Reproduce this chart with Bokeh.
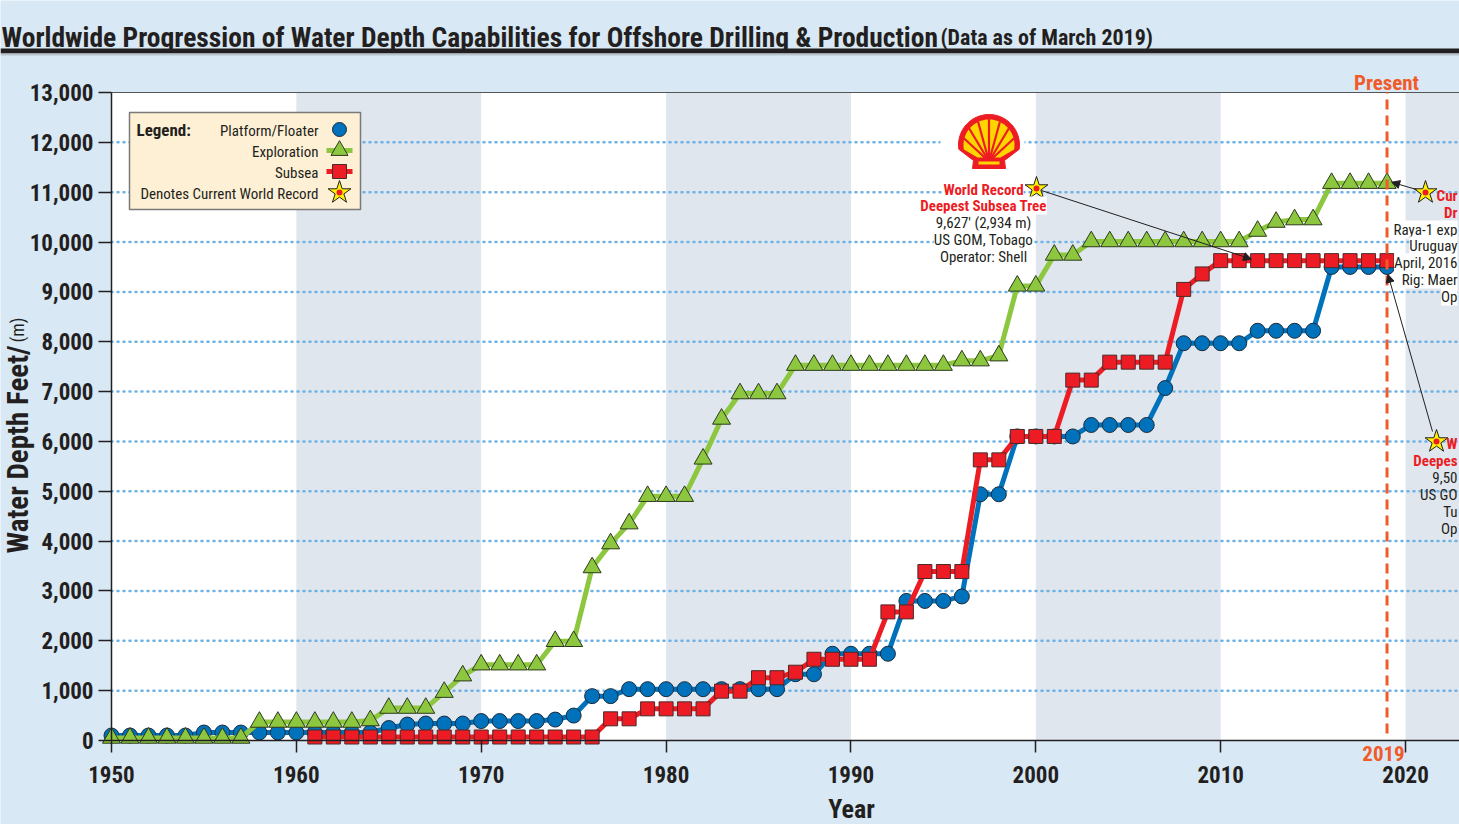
import math
import numpy as np
from bokeh.plotting import figure
from bokeh.models import (Range1d, FixedTicker, NumeralTickFormatter, BoxAnnotation,
                          Label, Arrow, NormalHead, BasicTickFormatter)
from bokeh.embed import file_html
from bokeh.resources import INLINE

nan = float("nan")

# ---------------- data ----------------
years = list(range(1950, 2020))

platform_ft = [100, 100, 100, 100, 100, 160, 160, 160, 160, 160,
               160, 160, 160, 160, 160, 250, 320, 340, 340, 340,
               390, 390, 390, 390, 420, 500, 890, 890, 1030, 1030,
               1030, 1030, 1030, 1030, 1030, 1030, 1030, 1330, 1330, 1740,
               1740, 1740, 1740, 2800, 2800, 2800, 2890, 4940, 4940, 6100,
               6100, 6100, 6100, 6330, 6330, 6330, 6330, 7070, 7970, 7970,
               7970, 7970, 8220, 8220, 8220, 8220, 9500, 9500, 9500, 9500]

exploration_ft = [50, 50, 50, 50, 50, 50, 50, 50, 370, 370,
                  370, 370, 370, 370, 400, 650, 650, 650, 970, 1300,
                  1520, 1520, 1520, 1520, 1990, 1990, 3470, 3950, 4350, 4900,
                  4900, 4900, 5650, 6450, 6960, 6960, 6960, 7530, 7530, 7530,
                  7530, 7530, 7530, 7530, 7530, 7530, 7620, 7620, 7720, 9120,
                  9120, 9740, 9740, 10010, 10010, 10010, 10010, 10010, 10010, 10010,
                  10010, 10010, 10220, 10400, 10450, 10450, 11180, 11180, 11180, 11180]

subsea_ft = [nan, nan, nan, nan, nan, nan, nan, nan, nan, nan,
             nan, 70, 70, 70, 70, 70, 70, 70, 70, 70,
             70, 70, 70, 70, 70, 70, 70, 435, 435, 635,
             635, 635, 635, 990, 990, 1260, 1260, 1370, 1630, 1630,
             1630, 1630, 2580, 2580, 3390, 3390, 3390, 5630, 5630, 6100,
             6100, 6100, 7230, 7230, 7590, 7590, 7590, 7590, 9050, 9360,
             9627, 9627, 9627, 9627, 9627, 9627, 9627, 9627, 9627, 9627]

decade_ticks = [1950, 1960, 1970, 1980, 1990, 2000, 2010, 2020]
depth_ticks = [0, 1000, 2000, 3000, 4000, 5000, 6000, 7000, 8000, 9000,
               10000, 11000, 12000, 13000]
band_start = [1960, 1980, 2000, 2020]
band_end = [1970, 1990, 2010, 2030]
present_year = 2019
subsea_record_pointer_year = 2012

# ---------------- styles ----------------
FONT = "'Roboto Condensed', 'Liberation Sans Narrow', 'DejaVu Sans Condensed', Roboto, sans-serif"
BG = "#d8e8f5"
BAND = "#dfe6ee"
DARK = "#231f20"
BLUE = "#0072bc"
GREEN = "#8dc63f"
RED = "#ed1c24"
ORANGE = "#f15a29"

W, H = 1459, 824
PX_YEAR = 18.486           # pixels per year
PX_FT = 648 / 13000        # pixels per foot
AX_X, AX_Y = 111, 740      # pixel position of (1950, 0)
XS = 1950 - AX_X / PX_YEAR
XE = XS + W / PX_YEAR
YS = -(H - AX_Y) / PX_FT
YE = AX_Y / PX_FT


def dx(px):
    return XS + px / PX_YEAR


def dy(py):
    return (AX_Y - py) / PX_FT


p = figure(width=W, height=H, output_backend="svg", toolbar_location=None,
           x_range=Range1d(XS, XE), y_range=Range1d(YS, YE),
           min_border_left=0, min_border_right=0, min_border_top=0, min_border_bottom=0,
           background_fill_color=BG, border_fill_color=BG, outline_line_color=None)

# plot area and bands
p.add_layout(BoxAnnotation(left=1950, right=XE, bottom=0, top=13000, fill_color="white",
                           fill_alpha=1, line_color=None, level="image"))
for s, e in zip(band_start, band_end):
    p.add_layout(BoxAnnotation(left=s, right=min(e, XE), bottom=0, top=13000, fill_color=BAND,
                               fill_alpha=1, line_color=None, level="image"))

# axes (fixed at the data origin)
p.xaxis.fixed_location = 0
p.yaxis.fixed_location = 1950
p.xaxis.bounds = (1950, XE)
p.yaxis.bounds = (0, 13000)
p.xaxis.ticker = FixedTicker(ticks=decade_ticks)
p.xaxis.formatter = BasicTickFormatter(use_scientific=False)
p.yaxis.ticker = FixedTicker(ticks=depth_ticks)
p.yaxis.formatter = NumeralTickFormatter(format="0,0")
for ax in (p.xaxis[0], p.yaxis[0]):
    ax.axis_line_color = DARK
    ax.axis_line_width = 1.5
    ax.major_tick_line_color = DARK
    ax.major_tick_line_width = 1.5
    ax.major_tick_in = 0
    ax.minor_tick_line_color = None
    ax.major_label_text_font = FONT
    ax.major_label_text_font_style = "bold"
    ax.major_label_text_font_size = "23px"
    ax.major_label_text_color = DARK
p.xaxis.major_tick_out = 12
p.xaxis.major_label_standoff = 13
p.yaxis.major_tick_out = 13
p.yaxis.major_label_standoff = 5
p.xgrid.visible = False
p.ygrid.visible = False

# dotted grid lines inside the plot area
grid_levels = depth_ticks[1:-1]
p.segment(x0=[1950] * len(grid_levels), y0=grid_levels, x1=[XE] * len(grid_levels), y1=grid_levels,
          line_color="#6fb3e6", line_width=2.5, line_dash="1 5", line_cap="round")
# top border of plot area
p.segment(x0=[1950], y0=[13000], x1=[XE], y1=[13000], line_color="#555555", line_width=1.2)

# legend box (drawn before data)
p.quad(left=[dx(129)], right=[dx(360)], top=[dy(112)], bottom=[dy(209)],
       fill_color="#fef0d5", line_color="#7a7a7a", line_width=1.5)

# shell logo (decoration)
p.quad(left=[dx(940)], right=[dx(1024)], top=[dy(108)], bottom=[dy(172)],
       fill_color="white", line_color=None)
cx, cy = 988.5, 144.5
t = np.radians(np.linspace(188, -8, 60))
ox = list(cx + 30.5 * np.cos(t)) + [1004, 1005, 972, 973]
oy = list(cy - 30.5 * np.sin(t)) + [160, 168, 168, 160]
p.patch([dx(v) for v in ox], [dy(v) for v in oy], fill_color=RED, line_color=RED, line_width=1)
t2 = np.radians(np.linspace(190, -10, 60))
ix = list(cx + 25.5 * np.cos(t2)) + [1000, 977]
iy = list(cy - 25.5 * np.sin(t2)) + [157, 157]
p.patch([dx(v) for v in ix], [dy(v) for v in iy], fill_color="#ffd500", line_color=None)
for ang in [165, 140, 115, 90, 65, 40, 15]:
    a = math.radians(ang)
    p.line([dx(cx), dx(cx + 26 * math.cos(a))], [dy(161), dy(cy - 26 * math.sin(a))],
           line_color=RED, line_width=2.2)
p.quad(left=[dx(978)], right=[dx(999)], top=[dy(161)], bottom=[dy(164)], fill_color="#ffd500", line_color=None)

# data series
p.line(years, platform_ft, line_color=BLUE, line_width=5)
p.scatter(years, platform_ft, marker="circle", size=15, fill_color=BLUE, line_color="#1c2b3a", line_width=1)
p.line(years, subsea_ft, line_color=RED, line_width=5)
p.scatter(years, subsea_ft, marker="square", size=14, fill_color=RED, line_color="#4a2a2a", line_width=1)
p.line(years, exploration_ft, line_color=GREEN, line_width=5)
p.scatter(years, exploration_ft, marker="triangle", size=18, fill_color=GREEN, line_color="#2c3a1c", line_width=1)

# present line
p.segment(x0=[present_year], y0=[dy(733)], x1=[present_year], y1=[13000], line_color=ORANGE,
          line_width=3, line_dash="10 6")

# legend markers
p.scatter([dx(339)], [dy(129)], marker="circle", size=14, fill_color=BLUE, line_color="#1c2b3a")
p.line([dx(326), dx(352)], [dy(150)] * 2, line_color=GREEN, line_width=5)
p.scatter([dx(339)], [dy(150)], marker="triangle", size=17, fill_color=GREEN, line_color="#2c3a1c")
p.line([dx(326), dx(352)], [dy(171)] * 2, line_color=RED, line_width=5)
p.scatter([dx(339)], [dy(171)], marker="square", size=14, fill_color=RED, line_color="#4a2a2a")

# record stars
star_px = [(339, 192), (1036, 188), (1425, 192), (1436, 441)]
p.scatter([dx(a) for a, b in star_px], [dy(b) for a, b in star_px], marker="star", size=24,
          fill_color="#fff200", line_color=DARK, line_width=1)
p.scatter([dx(a) for a, b in star_px], [dy(b) for a, b in star_px], marker="circle", size=6,
          fill_color=RED, line_color=None)

# arrows to record points
i_sub = years.index(subsea_record_pointer_year)
i_pr = years.index(present_year)
p.add_layout(Arrow(end=NormalHead(size=8, fill_color=DARK, line_color=DARK),
                   x_start=dx(1041), y_start=dy(190), x_end=dx(1251), y_end=subsea_ft[i_sub] + 30,
                   line_color=DARK, line_width=1))
p.add_layout(Arrow(end=NormalHead(size=8, fill_color=DARK, line_color=DARK),
                   x_start=dx(1416), y_start=dy(189), x_end=present_year + 0.25, y_end=exploration_ft[i_pr] + 20,
                   line_color=DARK, line_width=1))
p.add_layout(Arrow(end=NormalHead(size=8, fill_color=DARK, line_color=DARK),
                   x_start=dx(1432), y_start=dy(431), x_end=present_year + 0.05, y_end=platform_ft[i_pr] - 150,
                   line_color=DARK, line_width=1))


def lab(px, py, text, size, color=DARK, bold=False, align="center", baseline="middle", bg=None, angle=0.0):
    p.add_layout(Label(x=dx(px), y=dy(py), text=text,
                       text_font=FONT, text_font_size=f"{size}px",
                       text_font_style="bold" if bold else "normal", text_color=color,
                       text_align=align, text_baseline=baseline, angle=angle,
                       background_fill_color=bg))


# title & bar
p.quad(left=[XS], right=[XE], top=[dy(48)], bottom=[dy(53)], fill_color=DARK, line_color=None)
p.quad(left=[XS], right=[XE], top=[dy(53)], bottom=[dy(55)], fill_color="#b9c3cc", line_color=None)
lab(1, 37, "Worldwide Progression of Water Depth Capabilities for Offshore Drilling & Production", 27.5,
    bold=True, align="left", baseline="alphabetic")
lab(940, 37, "(Data as of March 2019)", 22, bold=True, align="left", baseline="alphabetic")
lab(1386, 82, "Present", 21, color=ORANGE, bold=True, baseline="alphabetic")
lab(1383, 753, "2019", 21, color=ORANGE, bold=True)
lab(851, 808, "Year", 26, bold=True)
lab(17, 553, "Water Depth Feet/", 29, bold=True, align="left", baseline="alphabetic", angle=math.pi / 2)
lab(17, 342, "(m)", 18, align="left", baseline="alphabetic", angle=math.pi / 2)

# legend texts
lab(136, 129, "Legend:", 17, bold=True, align="left")
lab(318, 130, "Platform/Floater", 15, align="right")
lab(318, 151, "Exploration", 15, align="right")
lab(318, 172, "Subsea", 15, align="right")
lab(318, 193, "Denotes Current World Record", 15, align="right")

# annotation: subsea record
lab(983, 189, "World Record", 15, color=RED, bold=True, bg="white")
lab(983, 205, "Deepest Subsea Tree", 15, color=RED, bold=True, bg="white")
lab(983, 222, "9,627' (2,934 m)", 15, bg="white")
lab(983, 239, "US GOM, Tobago", 15, bg="white")
lab(983, 256, "Operator: Shell", 15, bg="white")

# annotations at the right edge (text cut by the edge in the source)
RX = 1457
lab(RX, 195, "Cur", 15, color=RED, bold=True, align="right")
lab(RX, 212, "Dr", 15, color=RED, bold=True, align="right")
lab(RX, 229, "Raya-1 exp", 15, align="right", bg="white")
lab(RX, 245, "Uruguay", 15, align="right", bg="white")
lab(RX, 262, "April, 2016", 15, align="right", bg="white")
lab(RX, 279, "Rig: Maer", 15, align="right", bg="white")
lab(RX, 296, "Op", 15, align="right", bg="white")

lab(RX, 443, "W", 15, color=RED, bold=True, align="right")
lab(RX, 460, "Deepes", 15, color=RED, bold=True, align="right")
lab(RX, 477, "9,50", 15, align="right")
lab(RX, 494, "US GO", 15, align="right")
lab(RX, 511, "Tu", 15, align="right")
lab(RX, 528, "Op", 15, align="right")

open("out.html", "w").write(file_html(p, INLINE))
